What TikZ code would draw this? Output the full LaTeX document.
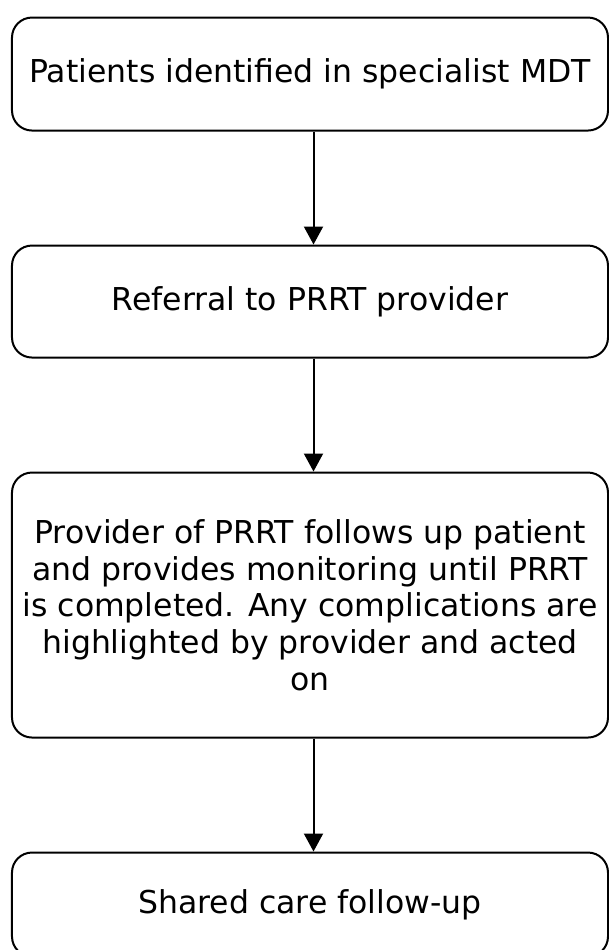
\documentclass[tikz,border=0pt]{standalone}
\usepackage{fontspec}
\setmainfont{DejaVu Sans}
\usetikzlibrary{arrows.meta}
\begin{document}
\begin{tikzpicture}[box/.style={draw,rounded corners=20pt,line width=2pt,minimum width=596pt,align=center,font=\fontsize{31.5}{36.7}\selectfont},
arr/.style={-{Triangle[length=18pt,width=19pt]},line width=2pt}]
\useasboundingbox (0,0) rectangle (609pt,950pt);
\matrix[ampersand replacement=\&,row sep=113pt,anchor=north] at (310pt,937pt){
\node[box,minimum height=113pt](b1){Patients identified in specialist MDT}; \\
\node[box,minimum height=112pt](b2){Referral to PRRT provider}; \\
\node[box,minimum height=265pt](b3){Provider of PRRT follows up patient\\and provides monitoring until PRRT\\is completed. Any complications are\\highlighted by provider and acted\\on}; \\
\node[box,minimum height=104pt](b4){Shared care follow-up}; \\ };
\draw[arr] ([xshift=3.5pt]b1.south) -- ([xshift=3.5pt]b2.north);
\draw[arr] ([xshift=3.5pt]b2.south) -- ([xshift=3.5pt]b3.north);
\draw[arr] ([xshift=3.5pt]b3.south) -- ([xshift=3.5pt]b4.north);
\end{tikzpicture}
\end{document}
